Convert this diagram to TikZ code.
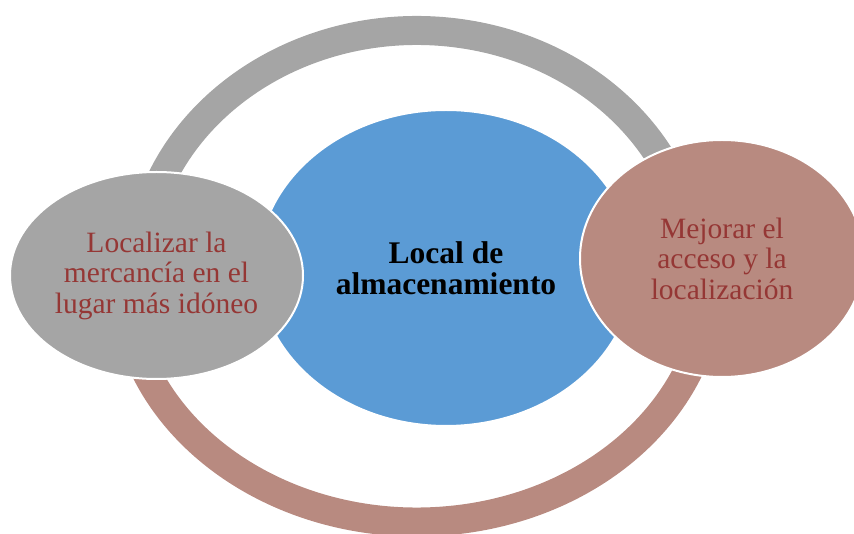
\documentclass[tikz,border=0pt]{standalone}
\usepackage{fontspec}
\setmainfont{Liberation Serif}
\usetikzlibrary{shapes.geometric,backgrounds}
\definecolor{colgray}{HTML}{A5A5A5}
\definecolor{colblue}{HTML}{5B9BD5}
\definecolor{colrose}{HTML}{B88A80}
\definecolor{coltext}{HTML}{953735}

\begin{document}
\begin{tikzpicture}[x=1pt, y=1pt,
    every node/.style={ellipse, inner sep=0pt, align=center,
                       draw=white, line width=2pt},
    sidetext/.style={text=coltext, font=\fontsize{29.5}{30.5}\selectfont},
    ring/.style={line width=29pt},
    ]
    \useasboundingbox (0,0) rectangle (854,533);
    \node[fill=colblue, minimum width=376pt, minimum height=316pt,
          font=\bfseries\fontsize{31.5}{31}\selectfont] (store) at (446,265)
          {Local de\\ almacenamiento};
    \node[fill=colgray, minimum width=293pt, minimum height=207pt, sidetext] (locate) at (156.5,257.5)
          {Localizar la\\ mercancía en el\\ lugar más idóneo};
    \node[fill=colrose, minimum width=284pt, minimum height=237pt, sidetext] (access) at (722,274.5)
          {Mejorar el\\ acceso y la\\ localización};
    \coordinate (centre) at (417,257);
    % cycle ring behind the ellipses
    \begin{scope}[on background layer]
        \draw[ring, colgray] ([shift={(172:278pt and 245.5pt)}]centre)
            arc[start angle=172, end angle=8, x radius=278pt, y radius=245.5pt];
        \draw[ring, colrose] ([shift={(188:294pt and 246pt)}]centre)
            arc[start angle=188, end angle=352, x radius=294pt, y radius=246pt];
    \end{scope}
\end{tikzpicture}
\end{document}
